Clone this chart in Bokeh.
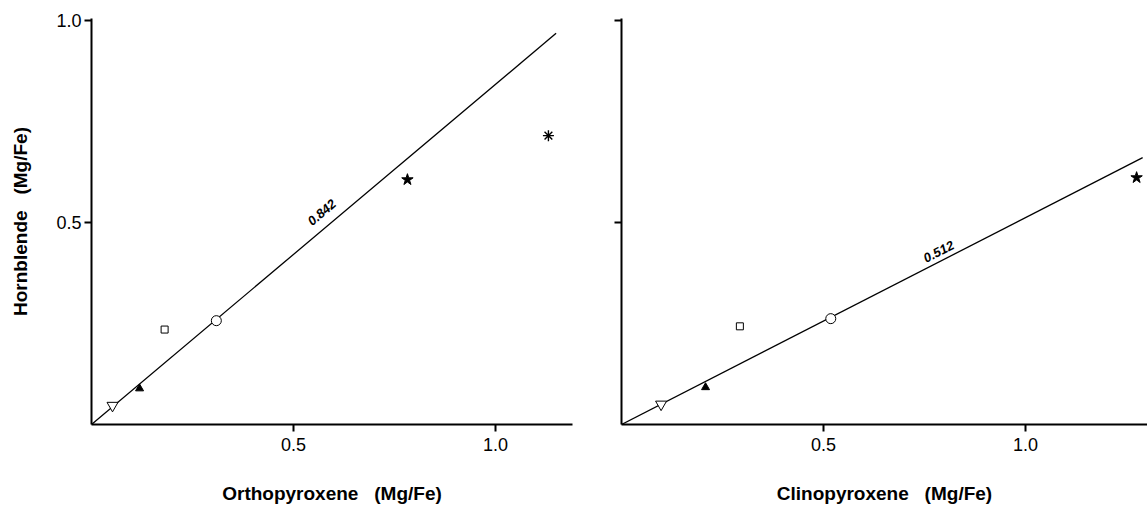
import math
from bokeh.plotting import figure
from bokeh.layouts import row
from bokeh.models import ColumnDataSource, FixedTicker, Range1d, Label
from bokeh.embed import file_html
from bokeh.resources import INLINE

# ---- data ----
opx_x = [0.052, 0.119, 0.181, 0.309, 0.782, 1.131]
opx_y = [0.047, 0.089, 0.235, 0.257, 0.606, 0.715]
opx_markers = ["inverted_triangle", "triangle", "square", "circle", "star", "asterisk"]

cpx_x = [0.098, 0.208, 0.293, 0.518, 1.275]
cpx_y = [0.050, 0.092, 0.243, 0.262, 0.611]
cpx_markers = ["inverted_triangle", "triangle", "square", "circle", "star"]

opx_slope = 0.842
cpx_slope = 0.512
opx_line_end = 1.15
cpx_line_end = 1.29

x_ticks = [0.5, 1.0]
y_ticks = [0.5, 1.0]
tick_labels = ["0.5", "1.0"]

STYLE = {
    "inverted_triangle": dict(size=11, fill_color="white", line_width=1),
    "triangle": dict(size=8, fill_color="black", line_width=1),
    "square": dict(size=7, fill_color="white", line_width=1),
    "circle": dict(size=10, fill_color="white", line_width=1),
    "star": dict(size=12, fill_color="black", line_width=1),
    "asterisk": dict(size=11, fill_color="black", line_width=1.4),
}

FONT = "Liberation Sans"
PX = 404.0  # pixels per data unit
SP = "\u00a0\u00a0\u00a0"


def panel(xs, ys, markers, slope, line_end, xlabel, ylabel, label_txt, label_pos,
          frame_w, b_left, b_right, show_ylabels):
    p = figure(frame_width=frame_w, frame_height=406,
               x_range=Range1d(0, frame_w / PX), y_range=Range1d(0, 406 / PX),
               output_backend="svg", toolbar_location=None,
               min_border_left=b_left, min_border_right=b_right,
               min_border_top=18, min_border_bottom=83,
               background_fill_color="white", border_fill_color="white")
    p.outline_line_color = None
    p.grid.visible = False

    # regression line
    p.line([0, line_end], [0, slope * line_end], line_color="black", line_width=1.3)

    for m in set(markers):
        idx = [i for i, mm in enumerate(markers) if mm == m]
        src = ColumnDataSource(dict(x=[xs[i] for i in idx], y=[ys[i] for i in idx]))
        st = STYLE[m]
        p.scatter("x", "y", source=src, marker=m, size=st["size"],
                  fill_color=st["fill_color"], line_color="black",
                  line_width=st["line_width"])

    ang = math.atan(slope)
    p.add_layout(Label(x=label_pos[0], y=label_pos[1], text=label_txt, angle=ang,
                       text_font=FONT, text_font_size="13px", text_font_style="bold italic",
                       text_align="center", text_baseline="middle", text_color="black"))

    for ax in (p.xaxis[0], p.yaxis[0]):
        ax.axis_line_width = 2
        ax.axis_line_color = "black"
        ax.major_tick_line_width = 2
        ax.major_tick_line_color = "black"
        ax.major_tick_in = 0
        ax.major_tick_out = 7
        ax.minor_tick_line_color = None
        ax.major_label_text_font = FONT
        ax.major_label_text_font_size = "18px"
        ax.major_label_text_color = "black"
        ax.axis_label_text_font = FONT
        ax.axis_label_text_font_size = "19px"
        ax.axis_label_text_font_style = "bold"
        ax.axis_label_text_color = "black"
    p.xaxis.ticker = FixedTicker(ticks=x_ticks)
    p.yaxis.ticker = FixedTicker(ticks=y_ticks)
    p.xaxis.major_label_overrides = dict(zip(x_ticks, tick_labels))
    p.xaxis.major_label_standoff = 6
    p.xaxis.axis_label = xlabel
    p.xaxis.axis_label_standoff = 29
    if show_ylabels:
        p.yaxis.axis_label = ylabel
        p.yaxis.major_label_overrides = dict(zip(y_ticks, tick_labels))
        p.yaxis.major_label_standoff = 3
        p.yaxis.axis_label_standoff = 22
    else:
        p.yaxis.major_label_overrides = {t: "" for t in y_ticks}
    return p


p1 = panel(opx_x, opx_y, opx_markers, opx_slope, opx_line_end,
           "Orthopyroxene" + SP + "(Mg/Fe)", "Hornblende" + SP + "(Mg/Fe)", "0.842", (0.57, 0.525),
           481, 91, 29, True)
p2 = panel(cpx_x, cpx_y, cpx_markers, cpx_slope, cpx_line_end,
           "Clinopyroxene" + SP + "(Mg/Fe)", "", "0.512", (0.785, 0.428),
           526, 20, 0, False)

layout = row(p1, p2)
open("out.html", "w").write(file_html(layout, INLINE))
